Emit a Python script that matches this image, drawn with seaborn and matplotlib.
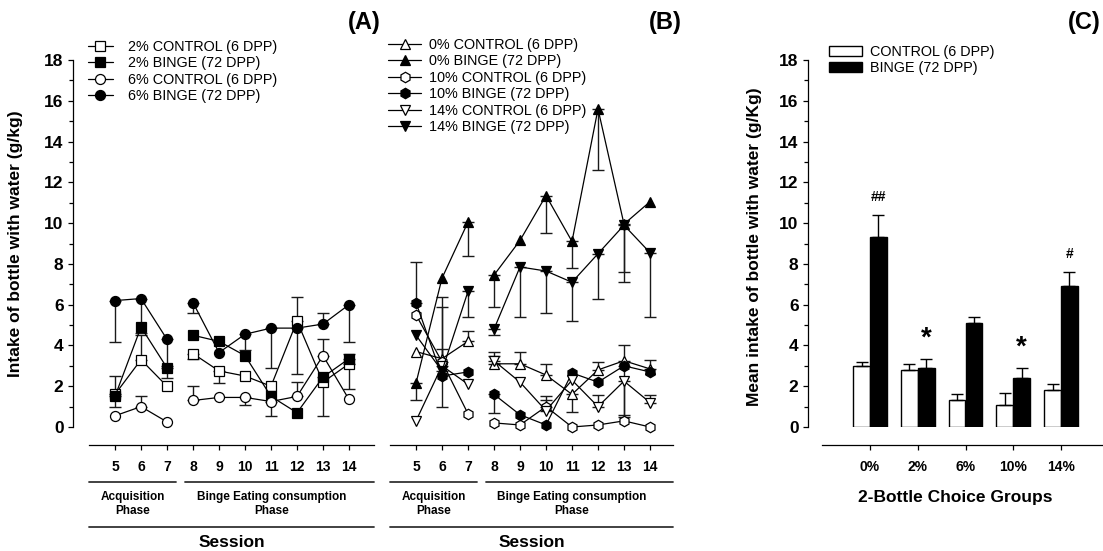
import numpy as np
import pandas as pd
import matplotlib
matplotlib.use('Agg')
import matplotlib.pyplot as plt
from matplotlib.lines import Line2D
from matplotlib.patches import Patch
import seaborn as sns

nan = np.nan

sessions = [5, 6, 7, 8, 9, 10, 11, 12, 13, 14]
phase = ['acq'] * 3 + ['binge'] * 7

# panel A: mean and the end of the drawn error bar (nan = no bar seen)
a_ctrl2 = [1.6, 3.3, 2.0, 3.6, 2.75, 2.5, 2.0, 5.2, 2.2, 3.1]
a_ctrl2_end = [1.0, 4.5, nan, 3.35, 2.15, nan, nan, 6.4, nan, 1.85]
a_binge2 = [1.5, 4.9, 2.9, 4.5, 4.2, 3.5, 1.5, 0.7, 2.45, 3.35]
a_binge2_end = [2.5, nan, 2.4, nan, nan, nan, nan, nan, 0.55, 3.6]
a_ctrl6 = [0.55, 1.0, 0.25, 1.3, 1.45, 1.45, 1.25, 1.5, 3.5, 1.35]
a_ctrl6_end = [nan, 1.5, nan, 2.0, nan, 1.1, 0.55, 2.2, 4.3, nan]
a_binge6 = [6.2, 6.3, 4.3, 6.1, 3.65, 4.55, 4.85, 4.85, 5.05, 6.0]
a_binge6_end = [4.15, 4.6, 3.0, 5.6, nan, 3.8, 2.9, 2.6, 5.6, 4.15]

# panel B
b_ctrl0 = [3.7, 3.35, 4.2, 3.1, 3.1, 2.55, 1.6, 2.8, 3.25, 2.85]
b_ctrl0_end = [nan, nan, 4.7, 3.5, 3.7, 3.1, 0.75, 3.2, 4.0, 3.3]
b_binge0 = [2.15, 7.3, 10.05, 7.45, 9.15, 11.35, 9.1, 15.6, 9.95, 11.05]
b_binge0_end = [1.3, nan, 8.4, 5.9, nan, 9.5, 7.8, 12.6, 7.6, nan]
b_ctrl10 = [5.5, 3.2, 0.65, 0.2, 0.1, 1.0, 0.0, 0.1, 0.3, 0.0]
b_ctrl10_end = [nan, 6.4, nan, nan, nan, 1.5, nan, nan, nan, nan]
b_binge10 = [6.1, 2.5, 2.7, 1.6, 0.6, 0.1, 2.65, 2.2, 3.0, 2.7]
b_binge10_end = [8.1, 1.0, nan, 0.7, nan, nan, nan, nan, 0.5, nan]
b_ctrl14 = [0.3, 3.0, 2.1, 3.25, 2.2, 0.8, 2.3, 1.0, 2.25, 1.2]
b_ctrl14_end = [nan, 3.85, nan, 3.7, nan, 1.3, nan, 1.55, 0.6, 1.55]
b_binge14 = [4.5, 2.75, 6.65, 4.8, 7.85, 7.65, 7.1, 8.5, 9.9, 8.55]
b_binge14_end = [nan, 5.9, 5.4, 4.5, 5.4, 5.6, 5.2, 6.3, 7.1, 5.4]

# panel C
groups = ['0%', '2%', '6%', '10%', '14%']
c_ctrl = [3.0, 2.8, 1.3, 1.1, 1.8]
c_ctrl_err = [0.2, 0.3, 0.3, 0.55, 0.3]
c_binge = [9.3, 2.9, 5.1, 2.4, 6.9]
c_binge_err = [1.1, 0.45, 0.3, 0.5, 0.7]
c_sig = ['##', '*', '', '*', '#']

sns.set_style('ticks')
plt.rcParams['font.family'] = ['Liberation Sans', 'DejaVu Sans']
plt.rcParams['axes.linewidth'] = 0.9
for key in ['text.color', 'axes.labelcolor', 'axes.edgecolor', 'xtick.color', 'ytick.color']:
    plt.rcParams[key] = 'black'

W, H = 1103, 551
fig = plt.figure(figsize=(W / 100, H / 100), dpi=100)


def px_axes(left, right, top, bottom):
    return fig.add_axes([left / W, 1 - bottom / H, (right - left) / W, (bottom - top) / H])


ax_a = px_axes(73, 374, 60, 427)
ax_b = px_axes(390, 680, 60, 427)
ax_c = px_axes(808, 1103, 60, 427)


def draw_series(ax, vals, ends, marker, face, ms):
    df = pd.DataFrame({'session': sessions, 'value': vals, 'phase': phase, 'end': ends})
    sns.lineplot(data=df, x='session', y='value', units='phase', estimator=None,
                 color='k', lw=0.9, marker=marker, mfc=face, mec='k', mew=0.9, ms=ms,
                 clip_on=False, zorder=3, ax=ax)
    bars = df.dropna(subset=['end'])
    lo = np.clip(bars['value'] - bars['end'], 0, None)
    hi = np.clip(bars['end'] - bars['value'], 0, None)
    ax.errorbar(bars['session'], bars['value'], yerr=[lo, hi], fmt='none',
                ecolor='0.1', elinewidth=1.0, capsize=4.5, capthick=1.0, zorder=2, clip_on=False)


draw_series(ax_a, a_ctrl2, a_ctrl2_end, 's', 'w', 6.5)
draw_series(ax_a, a_binge2, a_binge2_end, 's', 'k', 6.5)
draw_series(ax_a, a_ctrl6, a_ctrl6_end, 'o', 'w', 7.2)
draw_series(ax_a, a_binge6, a_binge6_end, 'o', 'k', 7.2)

draw_series(ax_b, b_ctrl0, b_ctrl0_end, '^', 'w', 7.5)
draw_series(ax_b, b_binge0, b_binge0_end, '^', 'k', 7.5)
draw_series(ax_b, b_ctrl10, b_ctrl10_end, 'h', 'w', 7.5)
draw_series(ax_b, b_binge10, b_binge10_end, 'h', 'k', 7.5)
draw_series(ax_b, b_ctrl14, b_ctrl14_end, 'v', 'w', 7.5)
draw_series(ax_b, b_binge14, b_binge14_end, 'v', 'k', 7.5)


def style_axes(ax, left_axis=True):
    ax.spines['top'].set_visible(False)
    ax.spines['right'].set_visible(False)
    ax.spines['bottom'].set_position(('outward', 13))
    ax.set_ylim(0, 18)
    ax.set_xlabel('')
    ax.set_ylabel('')
    if left_axis:
        ax.set_yticks(range(0, 19, 2))
        ax.set_yticks(range(0, 19), minor=True)
        ax.tick_params(axis='y', which='major', length=3.8, width=0.9, labelsize=12.5, pad=3)
        ax.tick_params(axis='y', which='minor', length=2.6, width=0.9)
        plt.setp(ax.get_yticklabels(), fontweight='bold')
    else:
        ax.spines['left'].set_visible(False)
        ax.tick_params(axis='y', which='both', left=False, labelleft=False)
    ax.tick_params(axis='x', which='major', length=3.6, width=0.9, labelsize=10, pad=7)
    ax.tick_params(axis='x', which='minor', bottom=False)


def session_axis(ax, lo, hi, split):
    tr = ax.get_xaxis_transform()
    ax.set_xticks(sessions)
    ax.set_xticklabels([str(s) for s in sessions], fontweight='bold')
    ax.spines['bottom'].set_bounds(lo, hi)
    line_kw = dict(transform=tr, clip_on=False, color='0.2', lw=1.3)
    ax.plot([lo, split - 0.15], [-0.15, -0.15], **line_kw)
    ax.plot([split + 0.2, hi], [-0.15, -0.15], **line_kw)
    ax.plot([lo, hi], [-0.272, -0.272], **line_kw)
    ax.text((lo + split - 0.15) / 2, -0.209, 'Acquisition\nPhase', transform=tr,
            ha='center', va='center', fontsize=8.5, fontweight='bold', linespacing=1.25)
    ax.text((split + 0.2 + hi) / 2 - 0.3, -0.209, 'Binge Eating consumption\nPhase', transform=tr,
            ha='center', va='center', fontsize=8.5, fontweight='bold', linespacing=1.25)
    ax.text((lo + hi) / 2, -0.315, 'Session', transform=tr,
            ha='center', va='center', fontsize=12.5, fontweight='bold')


style_axes(ax_a)
ax_a.set_xlim(5 - 42 / 26, 14 + 25 / 26)
session_axis(ax_a, 4.0, 14.96, 7.5)
ax_a.set_ylabel('Intake of bottle with water (g/kg)', fontsize=12.5, fontweight='bold')
ax_a.yaxis.set_label_coords(-0.165, 0.5)

style_axes(ax_b, left_axis=False)
ax_b.set_xlim(4.0, 14 + 30 / 26)
session_axis(ax_b, 4.0, 14.88, 7.5)

legend_kw = dict(loc='upper left', bbox_transform=fig.transFigure, frameon=False,
                 borderpad=0, borderaxespad=0, fontsize=10.4, labelspacing=0.17)


def handle(marker, face, ms):
    return Line2D([], [], color='k', lw=0.9, marker=marker, mfc=face, mec='k', mew=0.9, ms=ms)


ax_a.legend(handles=[handle('s', 'w', 6.5), handle('s', 'k', 6.5), handle('o', 'w', 7.2), handle('o', 'k', 7.2)],
            labels=['2% CONTROL (6 DPP)', '2% BINGE (72 DPP)', '6% CONTROL (6 DPP)', '6% BINGE (72 DPP)'],
            bbox_to_anchor=(88 / W, 1 - 40 / H), handlelength=1.7, handletextpad=1.1, **legend_kw)
ax_b.legend(handles=[handle('^', 'w', 7.5), handle('^', 'k', 7.5), handle('h', 'w', 7.5),
                     handle('h', 'k', 7.5), handle('v', 'w', 7.5), handle('v', 'k', 7.5)],
            labels=['0% CONTROL (6 DPP)', '0% BINGE (72 DPP)', '10% CONTROL (6 DPP)',
                    '10% BINGE (72 DPP)', '14% CONTROL (6 DPP)', '14% BINGE (72 DPP)'],
            bbox_to_anchor=(388 / W, 1 - 38 / H), handlelength=2.3, handletextpad=0.55, **legend_kw)

# panel C
conds = ['CONTROL (6 DPP)', 'BINGE (72 DPP)']
dfc = pd.DataFrame({'group': groups * 2,
                    'cond': [conds[0]] * 5 + [conds[1]] * 5,
                    'value': c_ctrl + c_binge})
sns.barplot(data=dfc, x='group', y='value', hue='cond', order=groups, hue_order=conds,
            palette=['white', 'black'], saturation=1, edgecolor='black', linewidth=1.0,
            width=0.71, gap=0, errorbar=None, legend=False, ax=ax_c)
for cont, vals, errs in zip(ax_c.containers, [c_ctrl, c_binge], [c_ctrl_err, c_binge_err]):
    xs = [p.get_x() + p.get_width() / 2 for p in cont]
    ax_c.errorbar(xs, vals, yerr=[np.zeros(len(errs)), errs], fmt='none', ecolor='k',
                  elinewidth=1.0, capsize=4.5, capthick=1.0, zorder=3)
binge_x = [p.get_x() + p.get_width() / 2 for p in ax_c.containers[1]]
for x, v, e, s in zip(binge_x, c_binge, c_binge_err, c_sig):
    if not s:
        continue
    size = 20 if s == '*' else 10
    ax_c.annotate(s, (x, v + e), xytext=(0, 5 if s == '*' else 8), textcoords='offset points',
                  ha='center', va='bottom', fontsize=size, fontweight='bold')

style_axes(ax_c)
ax_c.set_xlim(-62 / 47.75, 4 + 42 / 47.75)
ax_c.spines['bottom'].set_bounds(-1.0, 4 + 42 / 47.75)
ax_c.set_xticks(range(len(groups)))
ax_c.set_xticklabels(groups, fontweight='bold')
ax_c.set_xlabel('2-Bottle Choice Groups', fontsize=12.5, fontweight='bold', labelpad=12)
ax_c.set_ylabel('Mean intake of bottle with water (g/Kg)', fontsize=12.5, fontweight='bold')
ax_c.yaxis.set_label_coords(-0.157, 0.49)
ax_c.legend(handles=[Patch(fc='white', ec='black', lw=1.0), Patch(fc='black', ec='black', lw=1.0)],
            labels=conds, bbox_to_anchor=(829 / W, 1 - 45 / H), handlelength=2.3, handleheight=0.7,
            handletextpad=0.55, **legend_kw)

fig.text(364 / W, 1 - 22 / H, '(A)', ha='center', va='center', fontsize=17, fontweight='bold')
fig.text(665 / W, 1 - 22 / H, '(B)', ha='center', va='center', fontsize=17, fontweight='bold')
fig.text(1101 / W, 1 - 22 / H, '(C)', ha='right', va='center', fontsize=17, fontweight='bold')

fig.savefig('out.png', dpi=100)
